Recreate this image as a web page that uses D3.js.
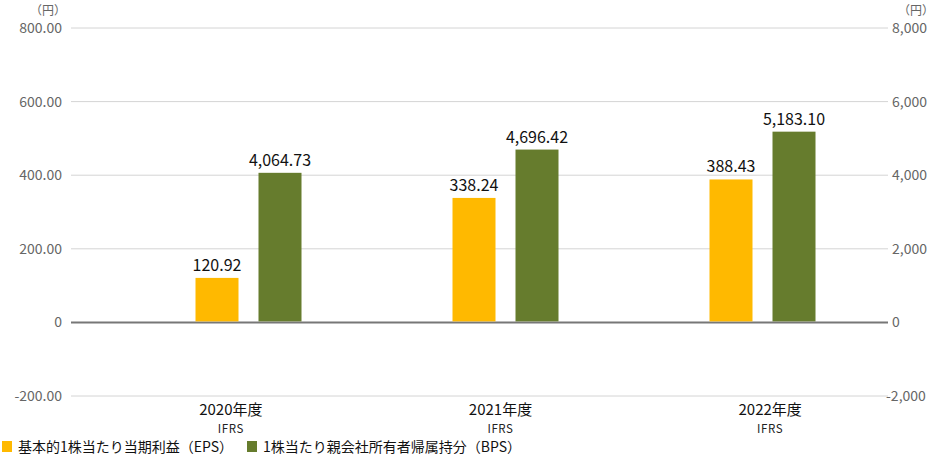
<!DOCTYPE html>
<html>
<head>
<meta charset="utf-8">
<script src="https://cdn.jsdelivr.net/npm/d3@7"></script>
<style>
  body { margin: 0; background: #fff; }
  svg { display: block; font-family: "Noto Sans CJK JP", "Noto Sans", sans-serif; }
</style>
</head>
<body>
<svg id="chart" width="936" height="456"></svg>
<script>
// data
const years = ["2020年度", "2021年度", "2022年度"];
const subLabels = ["IFRS", "IFRS", "IFRS"];
const eps = [120.92, 338.24, 388.43];
const bps = [4064.73, 4696.42, 5183.10];
const leftTicks = [-200, 0, 200, 400, 600, 800];
const rightTicks = [-2000, 0, 2000, 4000, 6000, 8000];
const legendNames = ["基本的1株当たり当期利益（EPS）", "1株当たり親会社所有者帰属持分（BPS）"];

const colors = ["#FFB900", "#667C2D"];

const svg = d3.select("#chart");
const plot = {left: 71, right: 888};

// y scales: left for EPS, right for BPS
const yL = d3.scaleLinear().domain([-200, 800]).range([396, 28]);
const yR = d3.scaleLinear().domain([-2000, 8000]).range([396, 28]);

// bars and category labels sit on slightly different bands
const x = d3.scaleBand().domain(years).range([120, 891]);
const xLabel = d3.scaleBand().domain(years).range([96, 905]);
const barW = 43, gap = 20;

// grid lines
svg.append("g").selectAll("line")
  .data(leftTicks)
  .join("line")
    .attr("x1", plot.left).attr("x2", plot.right)
    .attr("y1", d => yL(d)).attr("y2", d => yL(d))
    .style("stroke", d => d === 0 ? "#777" : "#d4d4d4")
    .style("stroke-width", d => d === 0 ? 2 : 1);

// left axis labels
const fmtL = d => d === 0 ? "0" : d3.format(".2f")(d).replace("−", "-");
svg.append("g").selectAll("text")
  .data(leftTicks)
  .join("text")
    .attr("x", 62).attr("y", d => yL(d) + 5)
    .attr("text-anchor", "end")
    .style("font-size", "14px").style("fill", "#666")
    .text(fmtL);

// right axis labels
svg.append("g").selectAll("text")
  .data(rightTicks)
  .join("text")
    .attr("x", d => d < 0 ? 886 : 892).attr("y", d => yR(d) + 5)
    .style("font-size", "14px").style("fill", "#666")
    .text(d => d3.format(",")(d).replace("−", "-"));

// unit labels
svg.append("text").attr("x", 48).attr("y", 15).attr("text-anchor", "middle")
  .style("font-size", "12px").style("fill", "#666").text("（円）");
svg.append("text").attr("x", 916).attr("y", 15).attr("text-anchor", "middle")
  .style("font-size", "12px").style("fill", "#666").text("（円）");

// bars
const groups = svg.append("g").selectAll("g")
  .data(years)
  .join("g")
    .attr("transform", d => "translate(" + (x(d) + x.bandwidth() / 2) + ",0)");

groups.append("rect")
  .attr("x", -gap / 2 - barW).attr("width", barW)
  .attr("y", (d, i) => yL(eps[i])).attr("height", (d, i) => yL(0) - yL(eps[i]) - 1)
  .style("fill", colors[0]);

groups.append("rect")
  .attr("x", gap / 2).attr("width", barW)
  .attr("y", (d, i) => yR(bps[i])).attr("height", (d, i) => yR(0) - yR(bps[i]) - 1)
  .style("fill", colors[1]);

// value labels
groups.append("text")
  .attr("x", -gap / 2 - barW / 2).attr("y", (d, i) => yL(eps[i]) - 7)
  .attr("text-anchor", "middle").style("font-size", "16px").style("fill", "#111")
  .text((d, i) => d3.format(",.2f")(eps[i]));

groups.append("text")
  .attr("x", gap / 2 + barW / 2).attr("y", (d, i) => yR(bps[i]) - 7)
  .attr("text-anchor", "middle").style("font-size", "16px").style("fill", "#111")
  .text((d, i) => d3.format(",.2f")(bps[i]));

// category labels
const cats = svg.append("g").selectAll("g")
  .data(years)
  .join("g")
    .attr("transform", d => "translate(" + (xLabel(d) + xLabel.bandwidth() / 2) + ",0)");
cats.append("text")
  .attr("y", 415)
  .attr("text-anchor", "middle").style("font-size", "15px").style("fill", "#111")
  .text(d => d);
cats.append("text")
  .attr("y", 433)
  .attr("text-anchor", "middle").style("font-size", "11.5px").style("fill", "#222")
  .style("letter-spacing", "0.6px")
  .text((d, i) => subLabels[i]);

// legend
const legendX = [2, 247];
const legend = svg.append("g").selectAll("g")
  .data(legendNames)
  .join("g")
    .attr("transform", (d, i) => "translate(" + legendX[i] + ",441)");
legend.append("rect").attr("width", 10).attr("height", 11)
  .style("fill", (d, i) => colors[i]);
legend.append("text").attr("x", 16).attr("y", 11)
  .style("font-size", "14px").style("fill", "#111")
  .text(d => d);
</script>
</body>
</html>
